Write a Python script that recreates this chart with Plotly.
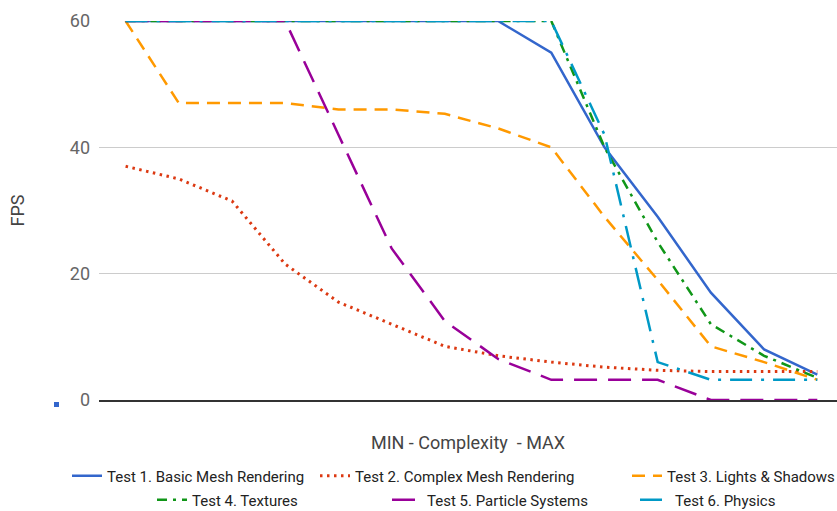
import plotly.graph_objects as go

# Complexity levels (no tick labels shown on the chart)
complexity_levels = list(range(1, 15))

test1_basic_mesh = [60, 60, 60, 60, 60, 60, 60, 60, 55, 40, 29, 17, 8, 4]
test2_complex_mesh = [37, 35, 31.5, 21.5, 15.5, 12, 8.5, 7, 6, 5.2, 4.7, 4.5, 4.5, 4.5]
test3_lights_shadows = [60, 47, 47, 47, 46, 46, 45.3, 43, 40, 29, 19, 8.5, 6, 3.2]
test4_textures = [60, 60, 60, 60, 60, 60, 60, 60, 60, 40, 25, 12, 7, 3.5]
test5_particles = [60, 60, 60, 60, 42, 24, 12.5, 6.5, 3.2, 3.2, 3.2, 0, 0, 0]
test6_physics = [60, 60, 60, 60, 60, 60, 60, 60, 60, 42, 6, 3.2, 3.2, 3.2]

series_names = [
    "Test 1. Basic Mesh Rendering",
    "Test 2. Complex Mesh Rendering",
    "Test 3. Lights & Shadows",
    "Test 4. Textures",
    "Test 5. Particle Systems",
    "Test 6. Physics",
]
series_values = [test1_basic_mesh, test2_complex_mesh, test3_lights_shadows,
                 test4_textures, test5_particles, test6_physics]
colors = ["#3366CC", "#DC3912", "#FF9900", "#109618", "#990099", "#0099C6"]
dashes = ["solid", "2.5px,4.5px", "13px,8px", "10px,6px,3px,6px", "23px,11px", "22px,9px,3px,9px"]
widths = [2.5, 3, 2.5, 2.5, 2.5, 2.5]

# legend entry placement (pixel text start, row centre y) in the 837x511 canvas
legend_text_x = [107, 355, 667, 192, 427, 675]
legend_row_y = [476, 476, 476, 500, 500, 500]

y_ticks = [0, 20, 40, 60]
y_tick_labels = ["0", "20", "40", "60"]

FONT = "Roboto, Arial, sans-serif"
W, H = 837, 511

fig = go.Figure()
legend_layouts = {}
for i, (name, vals, c, d, w) in enumerate(zip(series_names, series_values, colors, dashes, widths)):
    lg = "legend" if i == 0 else f"legend{i + 1}"
    fig.add_trace(go.Scatter(
        x=complexity_levels, y=vals, mode="lines", name=name,
        line=dict(color=c, dash=d, width=w),
        cliponaxis=False, legend=lg,
    ))
    legend_layouts[lg] = dict(
        orientation="h", xref="container", yref="container",
        x=(legend_text_x[i] - 40) / W, xanchor="left",
        y=1 - legend_row_y[i] / H, yanchor="middle",
        font=dict(size=15, color="#222222", family=FONT),
        bgcolor="rgba(0,0,0,0)", borderwidth=0,
    )

fig.update_layout(
    width=W, height=H,
    margin=dict(l=99, r=0, t=21, b=111, autoexpand=False),
    paper_bgcolor="white", plot_bgcolor="white",
    font=dict(family=FONT, color="#222222"),
    showlegend=True,
    shapes=[dict(type="rect", xref="paper", yref="paper",
                 x0=-45 / 738, x1=-40 / 738, y0=-7 / 379, y1=-2 / 379,
                 fillcolor="#3366CC", line=dict(width=0))],
    **legend_layouts,
)

fig.update_xaxes(
    range=[0.5, 14.37], showticklabels=False, showgrid=False, zeroline=False,
    showline=True, linecolor="#333333", linewidth=1.5, layer="below traces",
    title=dict(text="MIN - Complexity \u00a0- MAX",
               font=dict(size=18, color="#444444", family=FONT), standoff=36),
)
fig.update_yaxes(
    range=[0, 60], tickvals=y_ticks, ticktext=y_tick_labels,
    tickfont=dict(size=18, color="#666666", family=FONT),
    showgrid=True, gridcolor="#cccccc", gridwidth=1, zeroline=False,
    ticklabelstandoff=8, layer="below traces",
    title=dict(text="FPS", font=dict(size=18, color="#444444", family=FONT), standoff=40),
)

fig.write_html("out.html",
               config={"displayModeBar": False},
               post_script="document.body.style.margin='0';document.body.style.padding='0';")
